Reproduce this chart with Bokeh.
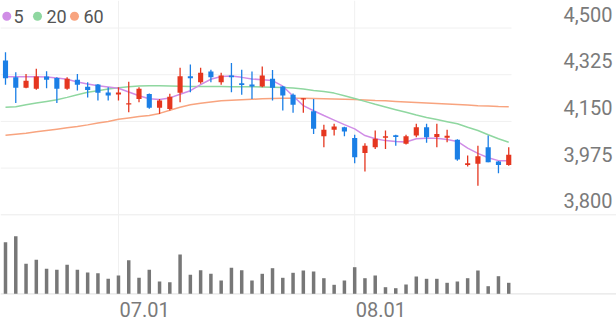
from bokeh.plotting import figure
from bokeh.models import ColumnDataSource, Range1d
from bokeh.core.properties import value
from bokeh.embed import file_html
from bokeh.resources import INLINE

# ---------------- data ----------------
opens = [4378, 4315, 4276, 4272, 4318, 4313, 4272, 4306, 4280, 4288,
         4258, 4251, 4214, 4234, 4253, 4201, 4196, 4257, 4319, 4297,
         4337, 4297, 4322, 4293, 4288, 4281, 4310, 4281, 4250, 4232,
         4188, 4094, 4119, 4128, 4088, 4032, 4053, 4089, 4098, 4066,
         4097, 4128, 4092, 4089, 4081, 3987, 3991, 4053, 4000, 3987]
highs = [4409, 4334, 4328, 4347, 4338, 4315, 4315, 4328, 4297, 4290,
         4278, 4278, 4299, 4278, 4255, 4234, 4254, 4351, 4363, 4351,
         4344, 4332, 4369, 4344, 4337, 4356, 4343, 4283, 4255, 4237,
         4234, 4137, 4141, 4130, 4100, 4068, 4116, 4116, 4100, 4100,
         4141, 4141, 4141, 4119, 4083, 4022, 4059, 4097, 4002, 4053]
lows = [4287, 4219, 4274, 4269, 4274, 4219, 4269, 4266, 4240, 4228,
        4228, 4228, 4184, 4222, 4197, 4178, 4191, 4222, 4259, 4291,
        4297, 4287, 4259, 4250, 4234, 4278, 4228, 4191, 4182, 4182,
        4103, 4053, 4097, 4094, 3993, 3962, 4047, 4047, 4059, 4063,
        4091, 4070, 4053, 4072, 4003, 3981, 3909, 3997, 3956, 3984]
closes = [4312, 4276, 4302, 4318, 4306, 4272, 4310, 4287, 4268, 4257,
          4247, 4258, 4218, 4272, 4201, 4228, 4242, 4319, 4312, 4332,
          4315, 4322, 4315, 4286, 4281, 4322, 4276, 4247, 4212, 4237,
          4122, 4119, 4131, 4112, 4016, 4059, 4085, 4094, 4092, 4094,
          4128, 4091, 4103, 4096, 4007, 3993, 4019, 3997, 3987, 4025]
volumes = [516, 576, 300, 340, 250, 240, 290, 240, 213, 206,
           150, 183, 336, 160, 240, 123, 116, 393, 190, 236,
           200, 133, 260, 236, 133, 200, 256, 160, 210, 233,
           223, 156, 90, 133, 266, 156, 183, 66, 56, 93,
           173, 150, 150, 110, 123, 156, 233, 76, 176, 110]
ma5 = [4317, 4317, 4317, 4317, 4316, 4313, 4308, 4298, 4290, 4284,
       4279, 4274, 4260, 4246, 4235, 4232, 4238, 4252, 4265, 4288,
       4308, 4318, 4320, 4315, 4309, 4306, 4303, 4282, 4245, 4209,
       4190, 4172, 4155, 4138, 4122, 4097, 4085, 4078, 4075, 4073,
       4085, 4087, 4087, 4082, 4075, 4050, 4030, 4014, 4003, 4003]
ma20 = [4203, 4205, 4212, 4219, 4225, 4231, 4240, 4250, 4259, 4265,
        4271, 4276, 4280, 4283, 4284, 4284, 4283, 4282, 4281, 4281,
        4281, 4281, 4280, 4280, 4280, 4279, 4278, 4277, 4275, 4271,
        4266, 4262, 4256, 4246, 4236, 4225, 4214, 4204, 4194, 4184,
        4174, 4165, 4157, 4149, 4141, 4128, 4116, 4100, 4085, 4072]
ma60 = [4098, 4102, 4106, 4111, 4116, 4121, 4126, 4131, 4137, 4144,
        4150, 4158, 4163, 4168, 4172, 4180, 4192, 4203, 4212, 4218,
        4223, 4227, 4229, 4231, 4233, 4235, 4236, 4237, 4237, 4237,
        4236, 4235, 4234, 4233, 4232, 4230, 4228, 4227, 4225, 4223,
        4221, 4219, 4217, 4215, 4213, 4211, 4209, 4208, 4206, 4205]
ma_names = ["5", "20", "60"]
y_ticks = [3800, 3975, 4150, 4325, 4500]
x_tick_index = [11, 34]
x_tick_labels = ["07.01", "08.01"]

# ---------------- layout (pixels) ----------------
W, H = 616, 321
X0_PX, STEP_PX = 5.0, 10.27          # centre of first candle, candle spacing
P_HI, P_HI_PX = 4500, 27.5
P_LO, P_LO_PX = 3800, 214.3
VOL_BASE_PX = 293.3
VOL_PER_PX = 10.0
GRID_END_PX = 511

RED = "#e5361f"
BLUE = "#1b7fe6"
MA_COLORS = ["#d08de6", "#8fd7a0", "#f8a47f"]
TXT = "#7a7a7a"

ppp = (P_HI - P_LO) / (P_LO_PX - P_HI_PX)       # price per pixel


def px_x(px):
    return (px - X0_PX) / STEP_PX


def px_price(py):
    return P_HI + (P_HI_PX - py) * ppp


x_range = Range1d(px_x(0), px_x(W))
y_range = Range1d(px_price(H), px_price(0))

p = figure(width=W, height=H, x_range=x_range, y_range=y_range,
           output_backend="svg", toolbar_location=None,
           x_axis_location=None, y_axis_location=None,
           min_border=0, outline_line_color=None,
           background_fill_color="white", border_fill_color="white")
p.xgrid.visible = False
p.ygrid.visible = False
p.extra_y_ranges = {"vol": Range1d(-(H - VOL_BASE_PX) * VOL_PER_PX,
                                   VOL_BASE_PX * VOL_PER_PX)}

n = len(closes)
idx = list(range(n))

# ---------------- grid ----------------
grid_src = ColumnDataSource(dict(y=y_ticks[1:], x0=[px_x(0)] * 4,
                                 x1=[px_x(GRID_END_PX)] * 4))
p.segment(x0="x0", x1="x1", y0="y", y1="y", source=grid_src,
          line_color="#f0f0f0", line_width=1)
p.segment(x0=[px_x(0)], x1=[px_x(W)], y0=[y_ticks[0]], y1=[y_ticks[0]],
          line_color="#ececec", line_width=1)
p.segment(x0=x_tick_index, x1=x_tick_index, y0=[0, 0],
          y1=[VOL_BASE_PX * VOL_PER_PX] * 2, y_range_name="vol",
          line_color="#f0f0f0", line_width=1)
p.segment(x0=[px_x(0)], x1=[px_x(W)], y0=[0], y1=[0], y_range_name="vol",
          line_color="#e6e6e6", line_width=1.2)

# ---------------- moving averages ----------------
for vals, col in zip([ma60, ma20, ma5], MA_COLORS[::-1]):
    p.line(idx, vals, line_color=col, line_width=1.5)

# ---------------- candles ----------------
min_body = 1.2 * ppp
colors, tops, bots = [], [], []
for o, c in zip(opens, closes):
    colors.append(RED if c >= o else BLUE)
    t, b = max(o, c), min(o, c)
    if t - b < min_body:
        mid = (t + b) / 2
        t, b = mid + min_body / 2, mid - min_body / 2
    tops.append(t)
    bots.append(b)
src = ColumnDataSource(dict(x=idx, o=opens, h=highs, l=lows, c=closes,
                            top=tops, bot=bots, color=colors, vol=volumes))
p.segment(x0="x", x1="x", y0="h", y1="l", source=src,
          line_color="color", line_width=1.3)
p.vbar(x="x", width=0.5, top="top", bottom="bot", source=src,
       fill_color="color", line_color=None)

# ---------------- volume ----------------
p.vbar(x="x", width=0.34, top="vol", bottom=0, source=src,
       y_range_name="vol", fill_color="#777777", line_color=None)

# ---------------- axis labels ----------------
p.text(x=[px_x(612)] * len(y_ticks), y=y_ticks,
       text=[f"{t:,}" for t in y_ticks], text_align="right",
       text_baseline="middle", y_offset=-14,
       text_font=value("Roboto"), text_font_size="20px", text_color=TXT)
p.text(x=x_tick_index, y=[0, 0], y_range_name="vol", text=x_tick_labels,
       text_align="left", text_baseline="middle", y_offset=16,
       x_offset=1, text_font=value("Roboto"), text_font_size="20px",
       text_color=TXT)

# ---------------- legend ----------------
dot_px = [6.3, 37.0, 74.0]
lab_px = [13.0, 46.0, 83.0]
p.scatter(x=[px_x(v) for v in dot_px], y=[px_price(15.7)] * 3, size=9,
          marker="circle", fill_color=MA_COLORS, line_color=None)
p.text(x=[px_x(v) for v in lab_px], y=[px_price(15.8)] * 3, text=ma_names,
       text_align="left", text_baseline="middle",
       text_font=value("Roboto"), text_font_size="18px", text_color="#555555")

open("out.html", "w").write(file_html(p, INLINE))
